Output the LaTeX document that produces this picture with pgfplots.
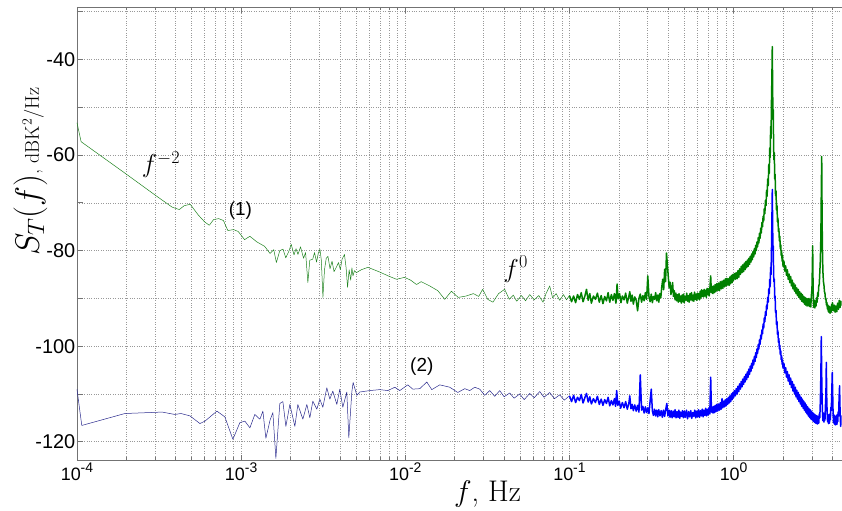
\RequirePackage{fix-cm}
\documentclass[border=0pt]{standalone}
\usepackage{fontspec}
\usepackage{pgfplots}
\pgfplotsset{compat=1.18}
\newfontfamily\arial{Liberation Sans}
\definecolor{mgreen}{RGB}{0,128,0}
\definecolor{mgreenl}{RGB}{30,130,30}
\definecolor{mblue}{RGB}{0,0,255}
\definecolor{mnavy}{RGB}{40,40,140}
\newcommand{\tenexp}[1]{10\raisebox{7.5bp}{\fontsize{14}{14}\selectfont #1}}
\begin{document}
\begin{tikzpicture}
\begin{axis}[
  scale only axis, width=765bp, height=454bp,
  xmode=log, xmin=1e-4, xmax=4.55, ymin=-124, ymax=-29,
  axis x line*=box, axis y line*=left,
  axis line style={black!55, line width=0.7bp},
  xtick={1e-4,1e-3,1e-2,1e-1,1},
  xticklabels={\tenexp{-4},\tenexp{-3},\tenexp{-2},\tenexp{-1},\tenexp{0}},
  minor xtick={2e-4,3e-4,4e-4,5e-4,6e-4,7e-4,8e-4,9e-4,
               2e-3,3e-3,4e-3,5e-3,6e-3,7e-3,8e-3,9e-3,
               2e-2,3e-2,4e-2,5e-2,6e-2,7e-2,8e-2,9e-2,
               0.2,0.3,0.4,0.5,0.6,0.7,0.8,0.9,2,3,4},
  ytick={-120,-110,-100,-90,-80,-70,-60,-50,-40,-30},
  yticklabels={-120,,-100,,-80,,-60,,-40,},
  grid=both,
  major grid style={dotted, black!40, line width=0.6bp},
  minor grid style={dotted, black!40, line width=0.6bp},
  tick style={black!55, line width=0.7bp},
  major tick length=6bp, minor tick length=3.5bp,
  xticklabel style={font=\arial\fontsize{18}{20}\selectfont, inner sep=2bp},
  yticklabel style={font=\arial\fontsize{20}{22}\selectfont, inner sep=1.5bp},
  xlabel={$f$, Hz},
  xlabel style={font=\fontsize{30}{34}\selectfont, at={(axis description cs:0.537,0)}, anchor=base, yshift=-40.7bp},
  ylabel={{\fontsize{34}{38}\selectfont$S_T(f)$}{\fontsize{20}{24}\selectfont, dBK$^2$/Hz}},
  ylabel style={at={(axis description cs:-0.0497,0.637)}, anchor=base, rotate=0},
  clip=true,
]
% series (1), low frequencies
\addplot[mgreenl, line width=0.5bp, line join=round] coordinates {
(1.00e-4,-53.2) (1.06e-4,-57.2) (2.00e-4,-64.0) (3.00e-4,-68.4) (3.80e-4,-70.9)
(4.20e-4,-71.4) (4.50e-4,-70.6) (4.90e-4,-70.3) (5.50e-4,-72.6) (6.00e-4,-74.0)
(6.40e-4,-74.7) (6.80e-4,-73.5) (7.30e-4,-73.3) (7.80e-4,-73.7) (8.30e-4,-75.8)
(9.00e-4,-75.6) (9.60e-4,-76.0) (1.05e-3,-77.7) (1.13e-3,-77.0) (1.25e-3,-78.2)
(1.39e-3,-79.1) (1.50e-3,-80.6) (1.58e-3,-79.8) (1.64e-3,-82.5) (1.72e-3,-80.0)
(1.80e-3,-79.7) (1.87e-3,-81.5) (1.95e-3,-80.2) (2.02e-3,-78.7) (2.10e-3,-80.9)
(2.16e-3,-79.6) (2.22e-3,-80.8) (2.30e-3,-79.2) (2.40e-3,-81.6) (2.47e-3,-80.4)
(2.55e-3,-86.7) (2.62e-3,-82.0) (2.73e-3,-81.8) (2.80e-3,-80.4) (2.88e-3,-82.4)
(2.95e-3,-80.6) (3.02e-3,-79.7) (3.08e-3,-82.0) (3.15e-3,-89.8) (3.22e-3,-84.0)
(3.30e-3,-81.6) (3.38e-3,-81.2) (3.48e-3,-83.8) (3.58e-3,-82.2) (3.68e-3,-84.4)
(3.80e-3,-83.5) (3.92e-3,-82.5) (4.02e-3,-84.0) (4.12e-3,-81.8) (4.26e-3,-80.8)
(4.36e-3,-83.6) (4.45e-3,-87.7) (4.55e-3,-84.0) (4.65e-3,-86.2) (4.73e-3,-83.6)
(4.80e-3,-85.3) (4.90e-3,-84.2) (5.04e-3,-84.6) (5.40e-3,-84.0) (5.92e-3,-83.5)
(7.00e-3,-84.5) (8.00e-3,-85.4) (8.84e-3,-86.0) (9.90e-3,-85.6) (1.08e-2,-86.2)
(1.17e-2,-87.1) (1.25e-2,-86.5) (1.41e-2,-87.4) (1.58e-2,-88.4) (1.74e-2,-90.2)
(1.91e-2,-88.5) (2.10e-2,-89.8) (2.35e-2,-89.5) (2.60e-2,-89.0) (2.80e-2,-89.6)
(2.96e-2,-88.1) (3.18e-2,-90.2) (3.42e-2,-90.8) (3.70e-2,-89.0) (4.03e-2,-88.1)
(4.30e-2,-90.2) (4.55e-2,-89.3) (4.77e-2,-90.6) (5.10e-2,-89.4) (5.40e-2,-90.5)
(5.73e-2,-89.2) (6.10e-2,-90.3) (6.50e-2,-89.4) (6.90e-2,-90.8) (7.20e-2,-89.0)
(7.58e-2,-87.4) (7.90e-2,-89.9) (8.30e-2,-89.0) (8.72e-2,-90.4) (9.20e-2,-89.2)
(9.60e-2,-90.3) (1.00e-1,-89.4)
};
% series (1), high frequencies
\addplot[mgreen, line width=1.5bp, line join=round] coordinates {
(0.100,-89.4) (0.103,-90.7) (0.106,-89.5) (0.109,-90.9) (0.112,-89.2) (0.115,-90.2)
(0.118,-88.8) (0.121,-90.7) (0.124,-89.6) (0.127,-88.1) (0.130,-90.4) (0.133,-89.0)
(0.136,-91.0) (0.140,-89.5) (0.144,-90.2) (0.148,-88.9) (0.152,-90.8) (0.156,-89.4)
(0.160,-91.1) (0.164,-89.6) (0.168,-90.5) (0.172,-88.8) (0.176,-90.8) (0.180,-89.2)
(0.184,-90.4) (0.188,-89.0) (0.192,-91.0) (0.195,-87.0) (0.198,-90.1) (0.202,-89.0)
(0.206,-90.9) (0.210,-89.5) (0.215,-90.3) (0.220,-88.9) (0.225,-91.0) (0.230,-89.6)
(0.233,-88.6) (0.237,-90.6) (0.241,-89.3) (0.245,-91.2) (0.250,-89.7) (0.255,-90.4)
(0.260,-92.6) (0.265,-90.0) (0.270,-89.1) (0.275,-90.8) (0.280,-89.4) (0.285,-90.5)
(0.290,-88.8) (0.295,-90.2) (0.300,-85.3) (0.305,-89.6) (0.310,-90.7) (0.315,-89.1)
(0.320,-90.9) (0.325,-89.6) (0.330,-90.2) (0.335,-88.8) (0.340,-90.5) (0.345,-89.3)
(0.350,-90.8) (0.355,-89.0) (0.360,-89.9) (0.365,-87.6) (0.370,-86.0) (0.375,-88.2)
(0.380,-83.9) (0.385,-86.5) (0.390,-80.5) (0.395,-83.0) (0.400,-85.5) (0.405,-87.8)
(0.410,-86.6) (0.415,-89.2) (0.420,-88.0) (0.425,-86.7) (0.430,-89.6) (0.435,-88.4)
(0.440,-90.3) (0.445,-88.9) (0.450,-90.5) (0.455,-89.2) (0.460,-90.8) (0.465,-89.0)
(0.470,-90.6) (0.475,-89.5) (0.480,-91.0) (0.485,-89.3) (0.490,-90.7) (0.495,-89.1)
(0.500,-90.9) (0.506,-89.6) (0.512,-90.4) (0.518,-88.9) (0.524,-90.6) (0.530,-89.4)
(0.536,-90.8) (0.542,-89.0) (0.548,-90.3) (0.554,-88.8) (0.560,-90.5) (0.566,-89.3)
(0.572,-90.6) (0.578,-88.7) (0.584,-90.2) (0.590,-89.1) (0.596,-90.4) (0.602,-88.9)
(0.608,-90.1) (0.614,-89.0) (0.620,-90.3) (0.626,-88.5) (0.632,-89.9) (0.638,-88.2)
(0.644,-89.6) (0.650,-88.4) (0.656,-89.7) (0.662,-88.1) (0.668,-89.5) (0.675,-88.3)
(0.682,-89.8) (0.689,-87.9) (0.696,-89.2) (0.703,-88.0) (0.710,-89.5) (0.718,-87.6)
(0.725,-85.3) (0.732,-88.8) (0.740,-87.5) (0.748,-89.0) (0.756,-87.4) (0.764,-88.8)
(0.772,-87.1) (0.780,-88.6) (0.790,-86.9) (0.800,-88.3) (0.810,-86.8) (0.820,-88.4)
(0.830,-86.5) (0.840,-88.0) (0.850,-86.4) (0.860,-87.9) (0.870,-86.2) (0.880,-87.6)
(0.890,-85.9) (0.900,-87.4) (0.910,-85.8) (0.920,-87.2) (0.930,-85.9) (0.940,-87.3)
(0.950,-85.5) (0.960,-86.9) (0.970,-85.2) (0.980,-86.7) (0.990,-85.0) (1.000,-86.2)
(1.012,-84.8) (1.025,-86.0) (1.037,-84.6) (1.050,-85.9) (1.062,-84.2) (1.075,-85.6)
(1.087,-83.8) (1.100,-85.0) (1.112,-83.3) (1.125,-84.6) (1.137,-83.0) (1.150,-84.4)
(1.162,-82.6) (1.175,-84.0) (1.187,-82.3) (1.200,-83.6) (1.212,-82.0) (1.225,-83.3)
(1.237,-81.6) (1.250,-82.9) (1.262,-81.2) (1.275,-82.4) (1.287,-80.7) (1.300,-81.9)
(1.312,-80.2) (1.325,-81.3) (1.337,-79.6) (1.350,-80.7) (1.362,-78.9) (1.375,-80.0)
(1.387,-78.2) (1.400,-79.2) (1.412,-77.3) (1.425,-78.4) (1.437,-76.4) (1.450,-77.4)
(1.462,-75.3) (1.475,-76.3) (1.487,-74.1) (1.500,-75.0) (1.512,-72.8) (1.525,-73.8)
(1.537,-71.2) (1.550,-72.3) (1.562,-69.5) (1.575,-70.6) (1.587,-67.4) (1.600,-68.6)
(1.612,-65.0) (1.625,-66.4) (1.637,-62.0) (1.650,-63.8) (1.660,-58.5) (1.670,-60.5)
(1.680,-54.0) (1.690,-56.5) (1.700,-49.0) (1.710,-44.0) (1.720,-37.3) (1.728,-45.0)
(1.736,-52.5) (1.744,-50.5) (1.752,-58.0) (1.760,-61.0) (1.770,-59.5) (1.780,-65.0)
(1.790,-64.0) (1.800,-68.5) (1.812,-67.5) (1.825,-71.5) (1.837,-70.5) (1.850,-74.0)
(1.862,-73.2) (1.875,-76.0) (1.887,-75.4) (1.900,-78.0) (1.912,-77.0) (1.925,-79.6)
(1.937,-78.8) (1.950,-81.0) (1.962,-80.2) (1.975,-82.2) (1.987,-81.0) (2.000,-83.3)
(2.025,-82.2) (2.050,-84.3) (2.075,-83.2) (2.100,-85.2) (2.125,-84.0) (2.150,-86.0)
(2.175,-84.9) (2.200,-86.7) (2.225,-85.4) (2.250,-87.4) (2.275,-86.2) (2.300,-88.0)
(2.325,-86.8) (2.350,-88.5) (2.375,-87.2) (2.400,-89.0) (2.425,-87.8) (2.450,-89.4)
(2.475,-88.1) (2.500,-89.8) (2.525,-88.6) (2.550,-90.2) (2.575,-88.9) (2.600,-90.6)
(2.625,-89.2) (2.650,-90.8) (2.675,-89.6) (2.700,-91.2) (2.725,-89.8) (2.750,-91.4)
(2.775,-90.0) (2.800,-91.6) (2.825,-90.1) (2.850,-91.5) (2.875,-90.0) (2.900,-91.7)
(2.925,-90.2) (2.950,-91.8) (2.975,-89.5) (3.000,-88.0) (3.015,-84.0) (3.030,-79.0)
(3.045,-86.0) (3.060,-90.5) (3.080,-91.9) (3.100,-90.4) (3.125,-92.0) (3.150,-90.6)
(3.175,-91.6) (3.200,-89.9) (3.225,-90.8) (3.250,-88.8) (3.275,-89.6) (3.300,-87.5)
(3.325,-87.0) (3.350,-84.5) (3.375,-82.0) (3.400,-77.0) (3.420,-68.0) (3.440,-60.3)
(3.455,-70.0) (3.470,-78.0) (3.485,-82.0) (3.500,-84.5) (3.525,-86.5) (3.550,-87.2)
(3.575,-88.6) (3.600,-88.9) (3.625,-90.2) (3.650,-90.0) (3.675,-91.4) (3.700,-90.8)
(3.725,-92.2) (3.750,-91.4) (3.775,-92.8) (3.800,-91.6) (3.825,-93.0) (3.850,-91.8)
(3.875,-93.1) (3.900,-91.9) (3.925,-92.9) (3.950,-91.3) (3.975,-92.5) (4.000,-90.9)
(4.050,-92.6) (4.100,-91.4) (4.150,-92.9) (4.200,-91.6) (4.250,-92.8) (4.300,-91.0)
(4.350,-92.3) (4.400,-90.4) (4.450,-91.9) (4.500,-90.6) (4.550,-91.5)
};
% series (2), low frequencies
\addplot[mnavy, line width=0.5bp, line join=round] coordinates {
(1.00e-4,-109.0) (1.07e-4,-116.6) (1.96e-4,-114.1) (2.78e-4,-113.9) (3.30e-4,-113.8)
(3.95e-4,-114.3) (4.30e-4,-114.1) (4.88e-4,-114.6) (5.61e-4,-116.2) (6.02e-4,-115.7)
(7.12e-4,-113.6) (7.96e-4,-114.8) (8.91e-4,-119.5) (9.83e-4,-116.0) (1.054e-3,-115.7)
(1.131e-3,-117.1) (1.212e-3,-114.3) (1.301e-3,-115.3) (1.357e-3,-113.6) (1.415e-3,-119.3)
(1.500e-3,-115.5) (1.561e-3,-113.9) (1.628e-3,-123.5) (1.721e-3,-112.0) (1.796e-3,-111.6)
(1.873e-3,-116.8) (1.981e-3,-112.2) (2.125e-3,-116.8) (2.216e-3,-112.2) (2.377e-3,-115.3)
(2.514e-3,-112.2) (2.622e-3,-115.0) (2.734e-3,-111.5) (2.892e-3,-113.2) (3.017e-3,-111.1)
(3.146e-3,-112.8) (3.327e-3,-108.7) (3.470e-3,-111.1) (3.619e-3,-109.4) (3.828e-3,-112.2)
(3.992e-3,-109.0) (4.164e-3,-112.8) (4.403e-3,-109.6) (4.529e-3,-119.2) (4.724e-3,-109.6)
(4.811e-3,-107.6) (5.067e-3,-110.3) (5.284e-3,-109.6) (6.08e-3,-109.3) (6.99e-3,-109.1)
(7.83e-3,-109.3) (8.63e-3,-108.6) (9.26e-3,-109.3) (1.036e-2,-108.1) (1.111e-2,-109.0)
(1.226e-2,-108.9) (1.352e-2,-107.5) (1.450e-2,-109.1) (1.622e-2,-108.1) (1.866e-2,-108.6)
(2.088e-2,-109.7) (2.303e-2,-108.9) (2.470e-2,-109.3) (2.650e-2,-108.6) (2.842e-2,-109.0)
(3.048e-2,-110.3) (3.269e-2,-109.3) (3.506e-2,-110.5) (3.761e-2,-109.3) (4.00e-2,-110.6)
(4.327e-2,-109.8) (4.60e-2,-110.9) (4.978e-2,-110.0) (5.30e-2,-111.2) (5.728e-2,-109.9)
(6.10e-2,-110.8) (6.59e-2,-109.5) (7.00e-2,-110.7) (7.58e-2,-109.7) (8.10e-2,-111.0)
(8.72e-2,-110.2) (9.30e-2,-111.3) (0.100,-110.4)
};
% series (2), high frequencies
\addplot[mblue, line width=1.5bp, line join=round] coordinates {
(0.100,-110.4) (0.103,-111.6) (0.106,-110.3) (0.109,-111.8) (0.112,-110.7) (0.115,-111.4)
(0.118,-110.1) (0.121,-111.9) (0.124,-110.8) (0.127,-109.9) (0.130,-111.7) (0.133,-110.6)
(0.136,-112.1) (0.140,-111.0) (0.144,-111.8) (0.148,-110.5) (0.152,-112.2) (0.156,-111.1)
(0.160,-112.4) (0.164,-111.2) (0.168,-112.0) (0.172,-110.7) (0.176,-112.5) (0.180,-111.4)
(0.184,-112.3) (0.188,-111.0) (0.191,-112.6) (0.194,-109.3) (0.197,-112.4) (0.201,-111.5)
(0.205,-113.0) (0.210,-111.8) (0.215,-112.9) (0.220,-111.6) (0.225,-113.2) (0.230,-112.0)
(0.233,-110.4) (0.237,-113.1) (0.241,-112.2) (0.245,-113.5) (0.250,-112.3) (0.255,-113.6)
(0.260,-112.4) (0.265,-113.8) (0.270,-106.0) (0.275,-113.4) (0.280,-112.6) (0.285,-114.0)
(0.290,-112.7) (0.295,-113.9) (0.300,-112.9) (0.305,-114.1) (0.310,-111.5) (0.315,-109.0)
(0.320,-113.6) (0.325,-114.5) (0.330,-113.2) (0.335,-114.6) (0.340,-113.4) (0.345,-114.8)
(0.350,-113.3) (0.356,-114.6) (0.362,-113.5) (0.368,-114.9) (0.374,-113.4) (0.380,-114.7)
(0.386,-113.2) (0.392,-112.0) (0.398,-114.6) (0.404,-113.4) (0.410,-114.9) (0.416,-113.5)
(0.422,-115.0) (0.428,-113.6) (0.434,-114.8) (0.440,-113.3) (0.446,-115.0) (0.452,-113.7)
(0.458,-114.9) (0.464,-113.4) (0.470,-115.1) (0.476,-113.8) (0.482,-114.7) (0.488,-113.5)
(0.494,-115.0) (0.500,-113.6) (0.508,-114.9) (0.516,-113.4) (0.524,-115.2) (0.532,-113.7)
(0.540,-114.8) (0.548,-113.5) (0.556,-115.1) (0.564,-113.9) (0.572,-114.7) (0.580,-113.4)
(0.588,-115.0) (0.596,-113.6) (0.604,-114.8) (0.612,-113.3) (0.620,-114.9) (0.628,-113.5)
(0.636,-114.6) (0.644,-113.2) (0.652,-114.8) (0.660,-113.4) (0.668,-114.5) (0.676,-113.0)
(0.684,-114.6) (0.692,-113.2) (0.700,-114.4) (0.708,-112.9) (0.716,-114.2) (0.725,-106.5)
(0.733,-113.8) (0.741,-112.7) (0.749,-114.0) (0.757,-112.6) (0.765,-113.9) (0.773,-112.4)
(0.781,-113.7) (0.790,-112.2) (0.800,-113.6) (0.810,-112.1) (0.820,-113.4) (0.830,-111.8)
(0.840,-113.2) (0.850,-111.0) (0.860,-112.9) (0.870,-111.5) (0.880,-112.7) (0.890,-111.2)
(0.900,-112.5) (0.910,-111.0) (0.920,-112.2) (0.930,-110.7) (0.940,-111.9) (0.950,-110.4)
(0.960,-111.6) (0.970,-110.0) (0.980,-111.2) (0.990,-109.7) (1.000,-110.8) (1.012,-109.3)
(1.025,-110.4) (1.037,-108.9) (1.050,-110.0) (1.062,-108.4) (1.075,-109.5) (1.087,-107.9)
(1.100,-109.0) (1.112,-107.4) (1.125,-108.5) (1.137,-106.9) (1.150,-108.0) (1.162,-106.4)
(1.175,-107.5) (1.187,-105.9) (1.200,-107.0) (1.212,-105.4) (1.225,-106.5) (1.237,-104.8)
(1.250,-105.9) (1.262,-104.2) (1.275,-105.3) (1.287,-103.6) (1.300,-104.6) (1.312,-102.9)
(1.325,-103.9) (1.337,-102.2) (1.350,-103.2) (1.362,-101.4) (1.375,-102.4) (1.387,-100.6)
(1.400,-101.5) (1.412,-99.7) (1.425,-100.6) (1.437,-98.7) (1.450,-99.6) (1.462,-97.7)
(1.475,-98.5) (1.487,-96.6) (1.500,-97.4) (1.512,-95.4) (1.525,-96.2) (1.537,-94.1)
(1.550,-94.9) (1.562,-92.8) (1.575,-93.6) (1.587,-91.4) (1.600,-92.2) (1.612,-89.8)
(1.625,-90.8) (1.637,-88.0) (1.650,-89.0) (1.660,-86.0) (1.670,-87.5) (1.680,-83.5)
(1.690,-85.0) (1.700,-80.0) (1.710,-74.0) (1.720,-67.2) (1.728,-74.0) (1.736,-80.0)
(1.744,-79.0) (1.752,-85.0) (1.760,-86.5) (1.770,-86.0) (1.780,-90.0) (1.790,-89.5)
(1.800,-93.0) (1.812,-92.5) (1.825,-95.5) (1.837,-94.8) (1.850,-97.5) (1.862,-96.8)
(1.875,-99.2) (1.887,-98.4) (1.900,-100.6) (1.912,-99.8) (1.925,-101.8) (1.937,-101.0)
(1.950,-102.8) (1.962,-102.0) (1.975,-103.8) (1.987,-102.9) (2.000,-104.6) (2.025,-103.6)
(2.050,-105.6) (2.075,-104.5) (2.100,-106.5) (2.125,-105.3) (2.150,-107.3) (2.175,-106.0)
(2.200,-108.0) (2.225,-106.7) (2.250,-108.7) (2.275,-107.4) (2.300,-109.4) (2.325,-108.0)
(2.350,-110.0) (2.375,-108.6) (2.400,-110.6) (2.425,-109.2) (2.450,-111.1) (2.475,-109.7)
(2.500,-111.6) (2.525,-110.2) (2.550,-112.1) (2.575,-110.7) (2.600,-112.6) (2.625,-111.1)
(2.650,-113.0) (2.675,-111.5) (2.700,-113.4) (2.725,-111.9) (2.750,-113.8) (2.775,-112.3)
(2.800,-114.2) (2.825,-112.7) (2.850,-114.6) (2.875,-113.0) (2.900,-114.9) (2.925,-113.3)
(2.950,-115.2) (2.975,-113.6) (3.000,-115.4) (3.025,-113.9) (3.050,-115.7) (3.075,-114.1)
(3.100,-115.9) (3.125,-114.3) (3.150,-116.1) (3.175,-114.5) (3.200,-116.2) (3.225,-114.6)
(3.250,-116.3) (3.275,-114.8) (3.300,-116.1) (3.325,-114.2) (3.350,-115.0) (3.375,-111.5)
(3.400,-106.0) (3.420,-98.0) (3.440,-106.0) (3.460,-111.5) (3.480,-114.0) (3.500,-115.6)
(3.525,-114.0) (3.550,-115.9) (3.575,-114.2) (3.600,-115.5) (3.625,-112.5) (3.650,-110.0)
(3.670,-103.4) (3.690,-110.5) (3.710,-113.6) (3.735,-115.8) (3.760,-114.3) (3.785,-116.2)
(3.810,-114.5) (3.835,-116.1) (3.860,-114.2) (3.885,-115.4) (3.910,-112.8) (3.935,-113.5)
(3.960,-110.0) (3.990,-105.5) (4.010,-109.5) (4.035,-114.0) (4.060,-116.0) (4.085,-114.4)
(4.110,-116.3) (4.135,-114.6) (4.160,-116.5) (4.185,-114.8) (4.210,-116.2) (4.235,-114.5)
(4.260,-116.4) (4.285,-114.3) (4.310,-115.8) (4.335,-113.8) (4.360,-114.6) (4.385,-111.5)
(4.400,-110.0) (4.420,-108.3) (4.440,-112.0) (4.465,-115.2) (4.490,-116.8) (4.515,-114.6)
(4.550,-116.2)
};
\node[anchor=center, font=\fontsize{26}{30}\selectfont] at (axis cs:3.25e-4,-61.97) {$f^{-2}$};
\node[anchor=center, font=\arial\fontsize{19}{22}\selectfont] at (axis cs:9.9e-4,-71.7) {(1)};
\node[anchor=center, font=\fontsize{26}{30}\selectfont] at (axis cs:0.0471,-83.9) {$f^{0}$};
\node[anchor=center, font=\arial\fontsize{19}{22}\selectfont] at (axis cs:0.0126,-104.3) {(2)};
\end{axis}
\path ([shift={(-77bp,-45bp)}]current axis.south west) rectangle ([shift={(0bp,7bp)}]current axis.north east);
\end{tikzpicture}
\end{document}
